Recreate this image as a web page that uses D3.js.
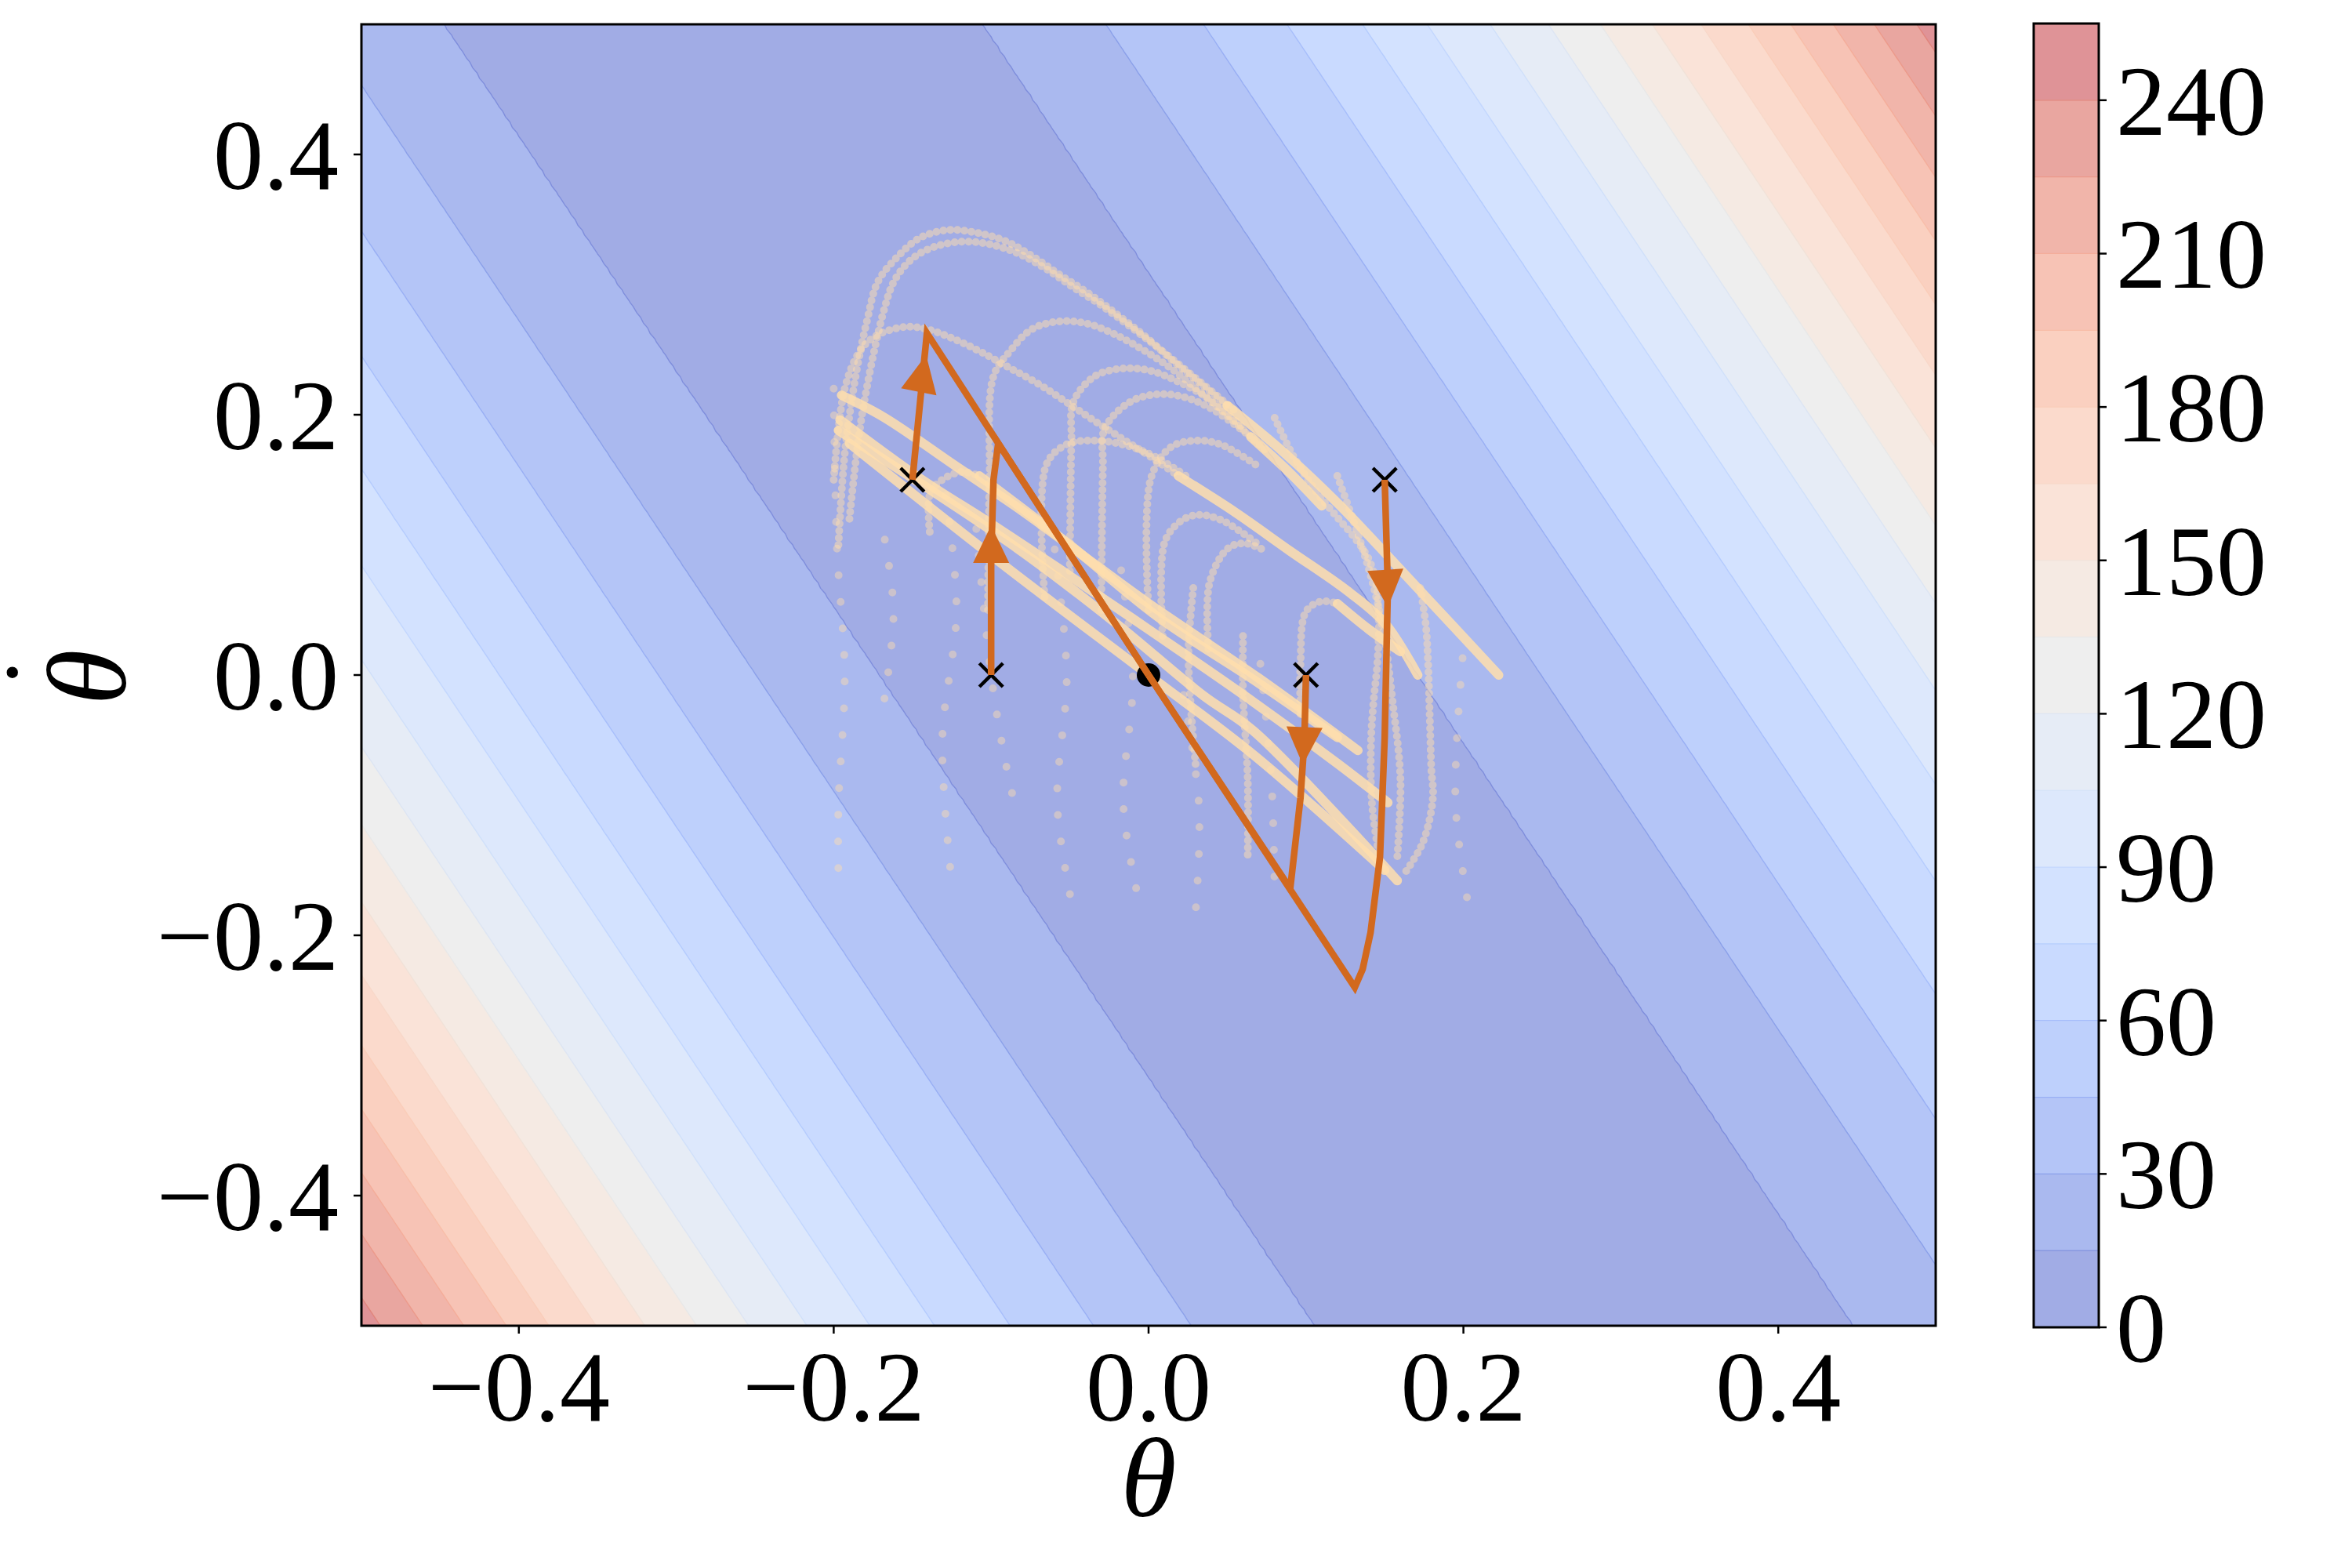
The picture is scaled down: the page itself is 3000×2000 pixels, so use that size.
<!DOCTYPE html>
<html><head><meta charset="utf-8">
<script src="https://cdn.jsdelivr.net/npm/d3@7"></script>
<style>
body{margin:0;background:#fff}
text{font-family:"Liberation Serif","Times New Roman",serif;fill:#000}
</style>
</head><body>
<svg id="chart" width="3000" height="2000" xmlns="http://www.w3.org/2000/svg"></svg>
<script>
// ---------------- data ----------------
const xTicks = [-0.4, -0.2, 0.0, 0.2, 0.4];
const yTicks = [-0.4, -0.2, 0.0, 0.2, 0.4];
const cbarTicks = [0, 30, 60, 90, 120, 150, 180, 210, 240];
const levels = [0,15,30,45,60,75,90,105,120,135,150,165,180,195,210,225,240,255];
// valley of V: theta + valleySlope*thetaDot = 0
const valleySlope = 0.553;
// distance u = |theta + valleySlope*thetaDot| at which V reaches 15, 30, ... 240
const levelOffsets = [0.1715,0.2495,0.3115,0.3645,0.4125,0.4535,0.4935,0.5305,0.5635,0.5965,0.6275,0.6575,0.6845,0.7115,0.7375,0.7645];

// start states (x markers) and equilibrium
const startStates = [[-0.15,0.15],[-0.1,0.0],[0.1,0.0],[0.15,0.15]];
const equilibrium = [0,0];

// highlighted trajectories (orange)
const orangeTrajs = [
  [[-0.15,0.15],[-0.1408,0.2627],[0,0]],
  [[-0.1,0.0],[-0.1,0.09],[-0.0985,0.15],[-0.0955,0.178],[0,0]],
  [[0.1,0.0],[0.099,-0.05],[0.0965,-0.0945],[0.09,-0.164],[0,0]],
  [[0.15,0.15],[0.152,0.067],[0.150,-0.048],[0.147,-0.140],[0.141,-0.198],[0.136,-0.226],[0.131,-0.240],[0,0]]
];
// arrow heads: [baseTheta, baseThetaDot, tipTheta, tipThetaDot]
const arrowHeads = [
  [-0.1460,0.2175,-0.1413,0.2460],
  [-0.1000,0.0880,-0.1000,0.1150],
  [0.0990,-0.0415,0.0980,-0.0690],
  [0.1505,0.0790,0.1520,0.0520]
];

// pale sampled trajectories: dotted arcs
const paleArcs = [
  [[-0.197,0.10],[-0.193,0.17],[-0.186,0.23],[-0.1786,0.2735],[-0.172,0.302],[-0.159,0.322],[-0.145,0.336],[-0.127,0.342],[-0.110,0.340],[-0.092,0.334],[-0.074,0.322],[-0.057,0.308],[-0.039,0.294],[-0.021,0.278],[-0.003,0.261],[0.014,0.243],[0.032,0.225],[0.050,0.207]],
  [[-0.19,0.12],[-0.182,0.20],[-0.1677,0.282],[-0.161,0.304],[-0.150,0.320],[-0.136,0.329],[-0.118,0.333],[-0.101,0.331],[-0.083,0.324],[-0.065,0.312],[-0.048,0.298],[-0.030,0.284],[-0.012,0.268],[0.0055,0.252],[0.030,0.228],[0.055,0.203]],
  [[-0.2,0.15],[-0.193,0.22],[-0.183,0.2494],[-0.172,0.2614],[-0.154,0.2675],[-0.1408,0.2657],[-0.1229,0.2578],[-0.1055,0.2476],[-0.0876,0.2355],[-0.0697,0.2235],[-0.0522,0.2096],[-0.0343,0.1952],[-0.0164,0.1813],[0.0015,0.1675],[0.0189,0.153]],
  [[-0.102,0.05],[-0.101,0.15],[-0.0985,0.2295],[-0.0876,0.2494],[-0.0741,0.2657],[-0.0567,0.2717],[-0.0388,0.2699],[-0.0209,0.2614],[-0.003,0.2494],[0.0144,0.2355],[0.040,0.210],[0.075,0.172]],
  [[-0.05,0.08],[-0.049,0.18],[-0.0478,0.2096],[-0.0343,0.2295],[-0.0164,0.2355],[0.0015,0.2337],[0.0189,0.2253],[0.0368,0.2133],[0.060,0.190]],
  [[-0.03,0.05],[-0.029,0.16],[-0.0279,0.1892],[-0.012,0.2096],[0.0055,0.2157],[0.0234,0.2133],[0.0413,0.2036],[0.065,0.183]],
  [[-0.066,0.06],[-0.065,0.1614],[-0.0522,0.1771],[-0.0343,0.1801],[-0.0164,0.1771],[0.0015,0.1693],[0.025,0.152]],
  [[0.0,0.05],[0.0015,0.1512],[0.0144,0.1753],[0.0303,0.1801],[0.0458,0.1771],[0.070,0.160]],
  [[0.009,0.03],[0.0100,0.1012],[0.019,0.1169],[0.0303,0.1229],[0.0458,0.1193],[0.070,0.100]],
  [[0.038,0.02],[0.0388,0.0711],[0.0502,0.097],[0.061,0.1012],[0.075,0.095]],
  [[-0.139,0.11],[-0.1388,0.1392],[-0.1318,0.1494],[-0.119,0.156],[-0.1075,0.153]],
  [[0.0965,-0.03],[0.0965,0.0084],[0.100,0.0488],[0.110,0.0566],[0.120,0.0548]],
  [[0.0801,0.1976],[0.0915,0.1693],[0.1065,0.141],[0.1199,0.1211],[0.1313,0.1048],[0.1398,0.0892],[0.1448,0.0687],[0.1463,0.0386],[0.1453,0.0084],[0.1428,-0.0217],[0.1413,-0.0518],[0.142,-0.10],[0.148,-0.15]],
  [[0.1199,0.153],[0.1328,0.109],[0.1428,0.0687],[0.1498,0.0289],[0.155,-0.02],[0.160,-0.08],[0.158,-0.14]],
  [[0.1726,0.0669],[0.1761,0.0386],[0.1776,0.0084],[0.1786,-0.0313],[0.1796,-0.0717],[0.1806,-0.0946],[0.1741,-0.129],[0.1617,-0.154]],
  [[0.0284,0.0669],[0.0254,0.0205],[0.0269,-0.0253],[0.030,-0.07]],
  [[0.060,0.03],[0.060,-0.014],[0.063,-0.08],[0.063,-0.14]]
];
// pale sampled trajectories: dense parts (solid looking)
const paleDense = [
  [[0.050,0.207],[0.086,0.171],[0.121,0.131],[0.170,0.068],[0.2224,0.0]],
  [[0.0189,0.153],[0.0547,0.1253],[0.090,0.0952],[0.1259,0.065],[0.150,0.040],[0.171,0.0]],
  [[0.065,0.183],[0.090,0.155],[0.110,0.130]],
  [[-0.195,0.215],[-0.168,0.198],[-0.123,0.161],[-0.079,0.125],[-0.034,0.085],[0.0,0.055],[0.070,-0.0024],[0.133,-0.058]],
  [[-0.196,0.196],[-0.145,0.151],[-0.101,0.117],[-0.056,0.081],[0.0,0.035],[0.060,-0.015],[0.120,-0.068],[0.152,-0.098]],
  [[-0.19,0.178],[-0.0945,0.0867],[0.0,0.0],[0.0667,-0.0614],[0.150,-0.150]],
  [[-0.197,0.188],[-0.083,0.097],[-0.022,0.041],[0.035,-0.016],[0.0667,-0.043],[0.158,-0.158]],
  [[-0.1075,0.153],[-0.050,0.100],[0.006,0.0446],[0.0667,-0.0036],[0.120,-0.048]],
  [[0.120,0.0548],[0.140,0.035],[0.160,0.018]]
];
// pale sampled trajectories: fast parts (sparse samples)
const paleSparse = [
  [[-0.2,0.22],[-0.198,0.10],[-0.193,0.0],[-0.197,-0.10],[-0.197,-0.155]],
  [[-0.17,0.12],[-0.162,0.05],[-0.168,-0.02]],
  [[-0.13,0.15],[-0.122,0.05],[-0.131,-0.05],[-0.125,-0.16]],
  [[-0.11,0.12],[-0.10,0.0],[-0.092,-0.06],[-0.085,-0.10]],
  [[-0.06,0.10],[-0.052,0.0],[-0.058,-0.10],[-0.048,-0.18]],
  [[-0.02,0.10],[-0.010,0.0],[-0.016,-0.10],[-0.005,-0.18]],
  [[0.02,0.0],[0.032,-0.10],[0.030,-0.18]],
  [[0.07,0.02],[0.078,-0.08],[0.080,-0.16]],
  [[0.20,0.02],[0.195,-0.10],[0.205,-0.19]]
];

// matplotlib "coolwarm" reference colours (33 stops)
const coolwarmStops = [
  [59,76,192],[68,90,204],[77,104,215],[87,117,225],[98,130,234],[108,142,241],[119,154,247],[130,165,251],
  [141,176,254],[152,185,255],[163,194,255],[174,201,253],[184,208,249],[194,213,244],[204,217,238],[213,219,230],
  [221,221,221],[229,216,209],[236,211,197],[241,204,185],[245,196,173],[247,187,160],[247,177,148],[247,166,135],
  [244,154,123],[241,141,111],[236,127,99],[229,112,88],[222,96,77],[213,80,66],[203,62,56],[192,40,47],[180,4,38]
];

// ---------------- setup ----------------
const svg = d3.select("#chart");
const M = {left:461, right:2469, top:31, bottom:1691};
const xs = d3.scaleLinear().domain([-0.5,0.5]).range([M.left, M.right]);
const ys = d3.scaleLinear().domain([-0.5,0.5]).range([M.bottom, M.top]);

const cw = d3.scaleLinear()
  .domain(coolwarmStops.map((d,i)=>i/(coolwarmStops.length-1)))
  .range(coolwarmStops.map(c=>d3.rgb(c[0],c[1],c[2])))
  .interpolate(d3.interpolateRgb);
const alpha = 0.5;
function bandColor(lo){ // filled band colour, blended over white
  const c = d3.rgb(cw((lo + 7.5)/255));
  return d3.rgb(255-(255-c.r)*alpha, 255-(255-c.g)*alpha, 255-(255-c.b)*alpha).formatHex();
}
function seamColor(lo){
  const c = d3.rgb(cw((lo + 7.5)/255));
  const a = 0.68;
  return d3.rgb(255-(255-c.r)*a, 255-(255-c.g)*a, 255-(255-c.b)*a).formatHex();
}

// ---------------- contour field ----------------
const vOfU = d3.scaleLinear().domain([0].concat(levelOffsets)).range(levels.slice(0, levelOffsets.length+1));
const n = 241, step = 1/(n-1);
const values = new Float64Array(n*n);
for (let j=0;j<n;j++) for (let i=0;i<n;i++){
  const th = -0.5 + i*step, td = -0.5 + j*step;
  values[j*n+i] = vOfU(Math.abs(th + valleySlope*td));
}
const bandThresholds = levels.slice(0, levels.length-1);
const contours = d3.contours().size([n,n]).thresholds(bandThresholds)(values);
const gridPath = d3.geoPath(d3.geoTransform({
  point: function(x,y){ this.stream.point(xs(-0.5+(x-0.5)*step), ys(-0.5+(y-0.5)*step)); }
}));

svg.append("defs").append("clipPath").attr("id","plotclip")
  .append("rect").attr("x",M.left).attr("y",M.top).attr("width",M.right-M.left).attr("height",M.bottom-M.top);

const plot = svg.append("g").attr("clip-path","url(#plotclip)");
plot.append("rect").attr("x",M.left).attr("y",M.top).attr("width",M.right-M.left).attr("height",M.bottom-M.top)
  .attr("fill", bandColor(0));
plot.append("g").selectAll("path").data(contours).join("path")
  .attr("d", gridPath)
  .attr("fill", d=>bandColor(d.value))
  .attr("stroke", d=>d.value===0 ? "none" : seamColor(d.value - 15))
  .attr("stroke-width", 1.4);

// ---------------- pale trajectories ----------------
const line = d3.line().x(d=>xs(d[0])).y(d=>ys(d[1])).curve(d3.curveCatmullRom.alpha(0.5));
const paleColor = "#ffdead";
plot.append("g").selectAll("path").data(paleSparse).join("path")
  .attr("d", line).attr("fill","none").attr("stroke",paleColor).attr("stroke-opacity",0.45)
  .attr("stroke-width",10).attr("stroke-linecap","round").attr("stroke-dasharray","0,34")
  .attr("stroke-dashoffset",(d,i)=>i*7);
plot.append("g").selectAll("path").data(paleArcs).join("path")
  .attr("d", line).attr("fill","none").attr("stroke",paleColor).attr("stroke-opacity",0.5)
  .attr("stroke-width",10).attr("stroke-linecap","round").attr("stroke-dasharray","0,9");
plot.append("g").selectAll("path").data(paleDense).join("path")
  .attr("d", line).attr("fill","none").attr("stroke",paleColor).attr("stroke-opacity",0.85)
  .attr("stroke-width",12).attr("stroke-linecap","round").attr("stroke-linejoin","round");

// ---------------- markers ----------------
const mk = plot.append("g");
mk.append("circle").attr("cx",xs(equilibrium[0])).attr("cy",ys(equilibrium[1])).attr("r",15).attr("fill","#000");
mk.selectAll("path.x").data(startStates).join("path").attr("class","x")
  .attr("d", d=>{const x=xs(d[0]),y=ys(d[1]),r=15; return `M${x-r},${y-r}L${x+r},${y+r}M${x-r},${y+r}L${x+r},${y-r}`;})
  .attr("stroke","#000").attr("stroke-width",4.5).attr("fill","none");

// ---------------- orange trajectories ----------------
const straight = d3.line().x(d=>xs(d[0])).y(d=>ys(d[1]));
const orange = "#d2691e";
plot.append("g").selectAll("path").data(orangeTrajs).join("path")
  .attr("d", straight).attr("fill","none").attr("stroke",orange).attr("stroke-width",8.5)
  .attr("stroke-linejoin","miter");
plot.append("g").selectAll("path").data(arrowHeads).join("path")
  .attr("d", d=>{
    const bx=xs(d[0]),by=ys(d[1]),tx=xs(d[2]),ty=ys(d[3]);
    const dx=tx-bx, dy=ty-by, L=Math.hypot(dx,dy);
    const ux=dx/L, uy=dy/L, hw=23, len=48;
    const b2x=tx-ux*len, b2y=ty-uy*len;
    return `M${tx},${ty}L${b2x-uy*hw},${b2y+ux*hw}L${b2x+uy*hw},${b2y-ux*hw}Z`;
  })
  .attr("fill",orange);

// ---------------- axes ----------------
const FS = 128;
const ax = svg.append("g");
ax.append("rect").attr("x",M.left).attr("y",M.top).attr("width",M.right-M.left).attr("height",M.bottom-M.top)
  .attr("fill","none").attr("stroke","#000").attr("stroke-width",3);
const fmt = v => (v<0?"\u2212":"") + Math.abs(v).toFixed(1);
ax.selectAll("line.xt").data(xTicks).join("line").attr("class","xt")
  .attr("x1",d=>xs(d)).attr("x2",d=>xs(d)).attr("y1",M.bottom).attr("y2",M.bottom+10)
  .attr("stroke","#000").attr("stroke-width",2.5);
ax.selectAll("text.xl").data(xTicks).join("text").attr("class","xl")
  .attr("x",d=>xs(d)).attr("y",M.bottom+121).attr("text-anchor","middle").attr("font-size",FS).text(fmt);
ax.selectAll("line.yt").data(yTicks).join("line").attr("class","yt")
  .attr("x1",M.left-10).attr("x2",M.left).attr("y1",d=>ys(d)).attr("y2",d=>ys(d))
  .attr("stroke","#000").attr("stroke-width",2.5);
ax.selectAll("text.yl").data(yTicks).join("text").attr("class","yl")
  .attr("x",M.left-29).attr("y",d=>ys(d)+44).attr("text-anchor","end").attr("font-size",FS).text(fmt);

// axis labels
svg.append("text").attr("x",(M.left+M.right)/2).attr("y",1934).attr("text-anchor","middle")
  .attr("font-size",145).attr("font-style","italic").text("\u03b8");
const yMid = (M.top+M.bottom)/2;
svg.append("g").attr("transform",`translate(160,${yMid}) rotate(-90)`)
  .append("text").attr("x",-3).attr("y",0).attr("text-anchor","middle")
  .attr("font-size",145).attr("font-style","italic").text("\u03b8");
// dot accent of the y label (time derivative)
svg.append("text").attr("x",0.5).attr("y",yMid+2).attr("font-size",122).text(".");

// ---------------- colorbar ----------------
const CB = {left:2594, right:2677, top:30, bottom:1693};
const cs = d3.scaleLinear().domain([0,255]).range([CB.bottom, CB.top]);
const bands = levels.slice(0,-1).map((lo,i)=>[lo, levels[i+1]]);
const cb = svg.append("g");
cb.selectAll("rect.band").data(bands).join("rect").attr("class","band")
  .attr("x",CB.left).attr("width",CB.right-CB.left)
  .attr("y",d=>cs(d[1])).attr("height",d=>cs(d[0])-cs(d[1]))
  .attr("fill",d=>bandColor(d[0]));
cb.selectAll("line.seam").data(levels.slice(1,-1)).join("line").attr("class","seam")
  .attr("x1",CB.left).attr("x2",CB.right).attr("y1",d=>cs(d)).attr("y2",d=>cs(d))
  .attr("stroke",d=>seamColor(d-15)).attr("stroke-width",1.2);
cb.append("rect").attr("x",CB.left).attr("y",CB.top).attr("width",CB.right-CB.left).attr("height",CB.bottom-CB.top)
  .attr("fill","none").attr("stroke","#000").attr("stroke-width",3);
cb.selectAll("line.ct").data(cbarTicks).join("line").attr("class","ct")
  .attr("x1",CB.right).attr("x2",CB.right+10).attr("y1",d=>cs(d)).attr("y2",d=>cs(d))
  .attr("stroke","#000").attr("stroke-width",2.5);
cb.selectAll("text.cl").data(cbarTicks).join("text").attr("class","cl")
  .attr("x",CB.right+22).attr("y",d=>cs(d)+44).attr("font-size",FS).text(d=>d);
</script>
</body></html>
